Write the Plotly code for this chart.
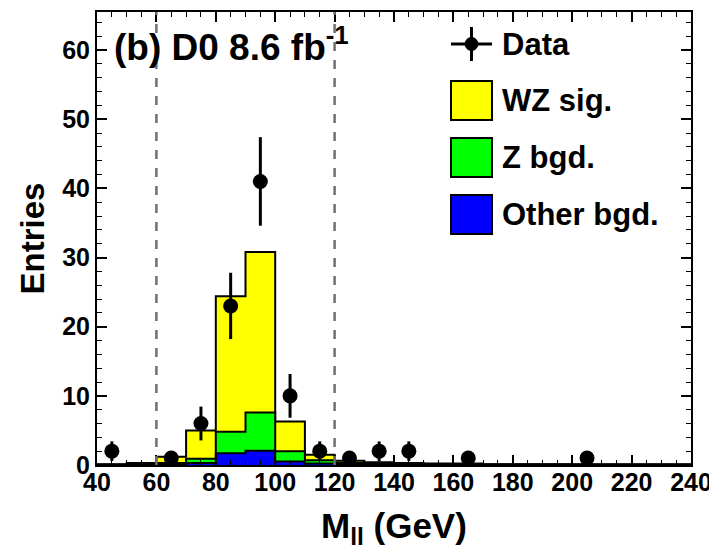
import numpy as np
import plotly.graph_objects as go

# ---------------- data ----------------
bin_edges = list(range(40, 250, 10))  # 40..240
wz_sig = [0.05, 0.2, 0.9, 4.1, 19.6, 23.2, 4.3, 0.8, 0.3, 0.2, 0.15, 0.1, 0.1, 0.05, 0.05, 0.05, 0.05, 0.05, 0.05, 0.05]
z_bgd = [0.02, 0.05, 0.15, 0.6, 3.1, 5.55, 1.5, 0.5, 0.2, 0.1, 0.1, 0.05, 0.05, 0.03, 0.03, 0.03, 0.03, 0.03, 0.03, 0.03]
other_bgd = [0.03, 0.05, 0.15, 0.3, 1.7, 2.05, 0.5, 0.2, 0.1, 0.1, 0.05, 0.05, 0.05, 0.03, 0.03, 0.03, 0.02, 0.02, 0.02, 0.02]

data_x = [45, 65, 75, 85, 95, 105, 115, 125, 135, 145, 165, 205]
data_y = [2, 1, 6, 23, 41, 10, 2, 1, 2, 2, 1, 1]

cut_low, cut_high = 60, 120
x_range = [40, 240]
y_range = [0, 65.5]

# ---------------- build ----------------
other_arr = np.array(other_bgd)
z_cum = other_arr + np.array(z_bgd)
tot_cum = z_cum + np.array(wz_sig)

FONT = "Liberation Sans, Arial, Helvetica, sans-serif"

fig = go.Figure()

def step_trace(vals, color):
    y = list(vals) + [vals[-1]]
    return go.Scatter(x=bin_edges, y=y, mode="lines", line=dict(shape="hv", color="black", width=2),
                      fill="tozeroy", fillcolor=color, showlegend=False, hoverinfo="skip")

fig.add_trace(step_trace(tot_cum, "#FFFF00"))
fig.add_trace(step_trace(z_cum, "#00FF00"))
fig.add_trace(step_trace(other_arr, "#0000FF"))

fig.add_trace(go.Scatter(
    x=data_x, y=data_y, mode="markers",
    marker=dict(color="black", size=15, symbol="circle"),
    error_y=dict(type="data", array=list(np.sqrt(data_y)), color="black", thickness=3, width=0),
    showlegend=False,
))

for c in (cut_low, cut_high):
    fig.add_shape(type="line", x0=c, x1=c, xref="x", y0=0, y1=1, yref="paper",
                  line=dict(color="#707070", width=2.5, dash="dash"), layer="above")

# ---------------- layout geometry (page pixels) ----------------
W, H = 717, 548
OFF = 8  # default page body margin
L, R, T, B = 97, 691, 12, 465
def px(x):
    return (x - L) / (R - L)
def py(y):
    return (B - y) / (B - T)

# Data entry
fig.add_shape(type="line", xref="paper", yref="paper", x0=px(451), x1=px(492), y0=py(44), y1=py(44),
              line=dict(color="black", width=3))
fig.add_shape(type="line", xref="paper", yref="paper", x0=px(471.5), x1=px(471.5), y0=py(27), y1=py(61),
              line=dict(color="black", width=3))
fig.add_shape(type="circle", xref="paper", yref="paper", x0=px(465), x1=px(478), y0=py(37.5), y1=py(50.5),
              fillcolor="black", line=dict(color="black", width=1))

legend_items = [("WZ sig.", "#FFFF00", 81, 120), ("Z bgd.", "#00FF00", 138, 177), ("Other bgd.", "#0000FF", 195, 234)]
for label, col, y0, y1 in legend_items:
    fig.add_shape(type="rect", xref="paper", yref="paper", x0=px(451), x1=px(492), y0=py(y1), y1=py(y0),
                  fillcolor=col, line=dict(color="black", width=2))
    fig.add_annotation(text=label, xref="paper", yref="paper", x=px(500), y=py((y0 + y1) / 2),
                       xanchor="left", yanchor="middle", showarrow=False,
                       font=dict(family=FONT, size=31, color="black", weight="bold"))
fig.add_annotation(text="Data", xref="paper", yref="paper", x=px(500), y=py(44),
                   xanchor="left", yanchor="middle", showarrow=False,
                   font=dict(family=FONT, size=31, color="black", weight="bold"))

# Title text
fig.add_annotation(text="(b) D0 8.6 fb<sup>-1</sup>", xref="paper", yref="paper", x=px(112), y=py(44),
                   xanchor="left", yanchor="middle", showarrow=False,
                   font=dict(family=FONT, size=37, color="black", weight="bold"))

# Axis titles
fig.add_annotation(text="M<sub>ll</sub> (GeV)", xref="paper", yref="paper", x=0.5, y=py(528),
                   xanchor="center", yanchor="middle", showarrow=False,
                   font=dict(family=FONT, size=35, color="black", weight="bold"))
fig.add_annotation(text="Entries", xref="paper", yref="paper", x=px(32), y=0.5, textangle=-90,
                   xanchor="center", yanchor="middle", showarrow=False,
                   font=dict(family=FONT, size=33, color="black", weight="bold"))

tickfont = dict(family=FONT, size=25, color="black", weight="bold")
fig.update_xaxes(range=x_range, dtick=20, tick0=40, ticks="inside", ticklen=10, tickwidth=1.5, tickcolor="black",
                 showline=True, linecolor="black", linewidth=2, mirror="allticks", showgrid=False, zeroline=False,
                 tickfont=tickfont, automargin=False, ticklabelstandoff=-6,
                 minor=dict(dtick=5, ticks="inside", ticklen=5, tickcolor="black", tickwidth=1.2, showgrid=False))
fig.update_yaxes(range=y_range, dtick=10, tick0=0, ticks="inside", ticklen=10, tickwidth=1.5, tickcolor="black",
                 showline=True, linecolor="black", linewidth=2, mirror="allticks", showgrid=False, zeroline=False,
                 tickfont=tickfont, automargin=False,
                 minor=dict(dtick=2, ticks="inside", ticklen=5, tickcolor="black", tickwidth=1.2, showgrid=False))

FW, FH = W - OFF, H - OFF
fig.update_layout(width=FW, height=FH,
                  margin=dict(l=L - OFF, r=FW - (R - OFF), t=T - OFF, b=FH - (B - OFF), pad=0),
                  plot_bgcolor="white", paper_bgcolor="white", showlegend=False)

fig.write_html("out.html")
